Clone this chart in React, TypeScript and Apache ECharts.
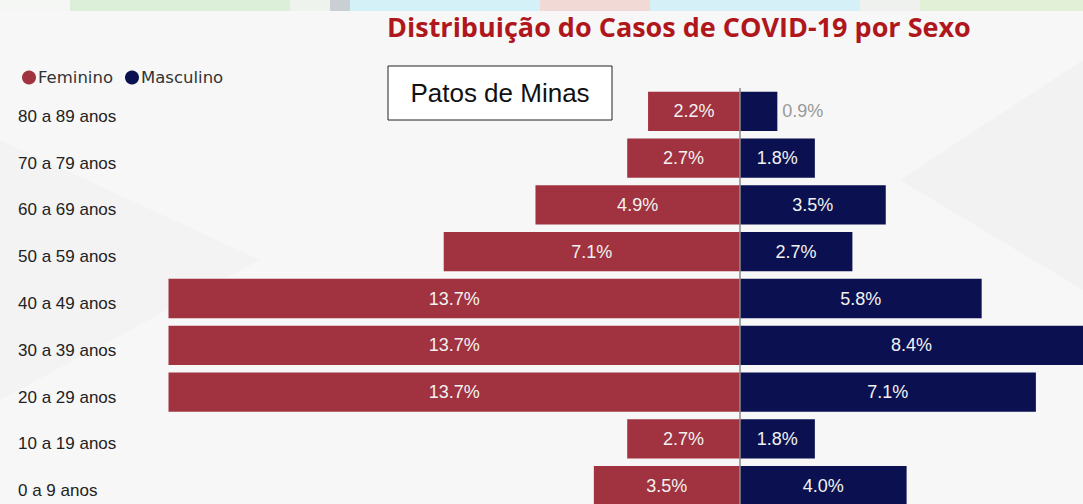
import React, { useEffect, useRef } from "react";
import * as echarts from "echarts";

const categories = [
  "0 a 9 anos",
  "10 a 19 anos",
  "20 a 29 anos",
  "30 a 39 anos",
  "40 a 49 anos",
  "50 a 59 anos",
  "60 a 69 anos",
  "70 a 79 anos",
  "80 a 89 anos",
];
const feminino = [3.5, 2.7, 13.7, 13.7, 13.7, 7.1, 4.9, 2.7, 2.2];
const masculino = [4.0, 1.8, 7.1, 8.4, 5.8, 2.7, 3.5, 1.8, 0.9];

const RED = "#a0333f";
const NAVY = "#0b1150";

export default function App() {
  const ref = useRef<HTMLDivElement>(null);
  useEffect(() => {
    if (!ref.current) return;
    const chart = echarts.init(ref.current, undefined, { renderer: "svg" });
    const labelBase = {
      show: true,
      position: "inside",
      color: "#f2f2f2",
      fontSize: 18,
      fontFamily: "Liberation Sans, Arial, sans-serif",
    };
    const topStrip = [
      { x: 0, w: 70, c: "#f4f7f3" },
      { x: 70, w: 220, c: "#dcefd9" },
      { x: 290, w: 40, c: "#eef3ee" },
      { x: 330, w: 20, c: "#c9cfd3" },
      { x: 350, w: 190, c: "#d3f1f6" },
      { x: 540, w: 110, c: "#f1d9d6" },
      { x: 650, w: 210, c: "#d5f0f6" },
      { x: 860, w: 60, c: "#eef1ee" },
      { x: 920, w: 163, c: "#e2f0d8" },
    ];
    chart.setOption({
      animation: false,
      backgroundColor: "#f7f7f7",
      title: {
        text: "Distribuição do Casos de COVID-19 por Sexo",
        left: 382,
        top: 8,
        textStyle: {
          color: "#b0171c",
          fontSize: 27,
          fontWeight: "bold",
          fontFamily: "Open Sans, sans-serif",
        },
      },
      legend: {
        left: 17,
        top: 64,
        icon: "circle",
        itemWidth: 14,
        itemHeight: 14,
        itemGap: 12,
        textStyle: {
          color: "#333",
          fontSize: 16.5,
          fontFamily: "DejaVu Sans, sans-serif",
          padding: [0, 0, 0, -3],
        },
        data: ["Feminino", "Masculino"],
      },
      graphic: [
        ...topStrip.map((s) => ({
          type: "rect",
          z: -10,
          shape: { x: s.x, y: 0, width: s.w, height: 11 },
          style: { fill: s.c },
        })),
        {
          type: "polygon",
          z: -10,
          shape: { points: [[0, 140], [260, 260], [0, 400]] },
          style: { fill: "#f3f3f3" },
        },
        {
          type: "polygon",
          z: -10,
          shape: { points: [[1083, 60], [900, 180], [1083, 290]] },
          style: { fill: "#f2f2f2" },
        },
        {
          type: "rect",
          shape: { x: 388, y: 66, width: 224, height: 54 },
          style: { fill: "#ffffff", stroke: "#222", lineWidth: 1 },
        },
        {
          type: "text",
          x: 500,
          y: 93,
          style: {
            text: "Patos de Minas",
            fill: "#111",
            fontSize: 26,
            fontFamily: "Liberation Sans, Arial, sans-serif",
            align: "center",
            verticalAlign: "middle",
          },
        },
      ],
      grid: {
        left: 156,
        top: 88,
        width: 927,
        height: 421,
        containLabel: false,
        outerBoundsMode: "none",
      },
      xAxis: {
        type: "value",
        min: -14,
        max: 8.23,
        show: false,
        splitLine: { show: false },
      },
      yAxis: {
        type: "category",
        data: categories,
        axisLine: { show: false },
        axisTick: { show: false },
        axisLabel: {
          margin: 138,
          align: "left",
          formatter: "{a|{value}}",
          rich: {
            a: {
              color: "#222",
              fontSize: 17,
              fontFamily: "Liberation Sans, Arial, sans-serif",
              padding: [10, 0, 0, 0],
            },
          },
        },
      },
      series: [
        {
          name: "Feminino",
          type: "bar",
          barWidth: "84%",
          barGap: "-100%",
          itemStyle: { color: RED },
          label: {
            ...labelBase,
            formatter: (p: any) => Math.abs(p.value).toFixed(1) + "%",
          },
          data: feminino.map((v) => -v),
        },
        {
          name: "Masculino",
          type: "bar",
          barWidth: "84%",
          itemStyle: { color: NAVY },
          label: {
            ...labelBase,
            formatter: (p: any) => Number(p.value).toFixed(1) + "%",
          },
          data: masculino.map((v) =>
            v < 1.5
              ? { value: v, label: { position: "right", color: "#999", distance: 5 } }
              : v
          ),
          markLine: {
            silent: true,
            symbol: "none",
            label: { show: false },
            lineStyle: { color: "#8a8a8a", width: 1.5, type: "solid" },
            data: [{ xAxis: 0 }],
          },
        },
      ],
    });
    return () => chart.dispose();
  }, []);
  return (
    <div
      ref={ref}
      style={{ position: "absolute", left: 0, top: 0, width: 1083, height: 504 }}
    />
  );
}
